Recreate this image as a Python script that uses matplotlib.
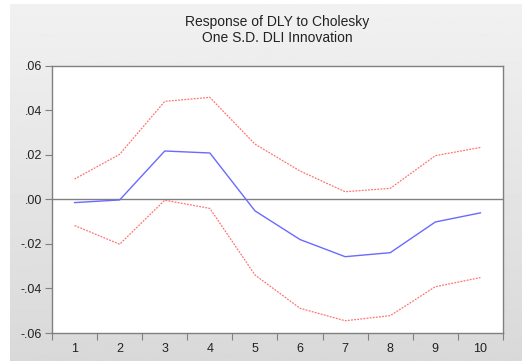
import matplotlib.pyplot as plt
import numpy as np

# Impulse response values
periods = [1, 2, 3, 4, 5, 6, 7, 8, 9, 10]
response = [-0.0014, -0.0002, 0.0218, 0.0209, -0.0051, -0.0180, -0.0257, -0.0239, -0.0101, -0.0060]
upper_band = [0.0092, 0.0203, 0.0441, 0.0459, 0.0249, 0.0128, 0.0035, 0.0050, 0.0197, 0.0234]
lower_band = [-0.0117, -0.0201, -0.0003, -0.0040, -0.0339, -0.0489, -0.0545, -0.0522, -0.0392, -0.0351]
y_ticks = [-0.06, -0.04, -0.02, 0.00, 0.02, 0.04, 0.06]
y_labels = ['-.06', '-.04', '-.02', '.00', '.02', '.04', '.06']

W, H = 522, 361
fig = plt.figure(figsize=(W / 100, H / 100), dpi=100)
fig.patch.set_facecolor('white')
plt.rcParams['font.family'] = ['Liberation Sans', 'DejaVu Sans']

# gray gradient panel behind the plot
bg = fig.add_axes([10 / W, 0, 1 - 10 / W, 1 - 4 / H])
grad = np.linspace(0.945, 0.85, 256).reshape(-1, 1)
bg.imshow(grad, cmap='gray', vmin=0, vmax=1, aspect='auto', extent=[0, 1, 0, 1])
bg.set_axis_off()

left, right, top, bottom = 52, 503, 66, 333
ax = fig.add_axes([left / W, 1 - bottom / H, (right - left) / W, (bottom - top) / H])
ax.set_facecolor('white')

ax.axhline(0, color='#808080', lw=1.0, zorder=1)
ax.plot(periods, upper_band, color='#ff5050', lw=0.9, ls=(0, (1.5, 1.0)), alpha=0.8)
ax.plot(periods, lower_band, color='#ff5050', lw=0.9, ls=(0, (1.5, 1.0)), alpha=0.8)
ax.plot(periods, response, color='#6a6aff', lw=1.0)

ax.set_xlim(0.5, 10.5)
ax.set_ylim(-0.06, 0.06)
ax.set_yticks(y_ticks)
ax.set_yticklabels(y_labels)
ax.set_xticks(np.arange(0.5, 11, 1))
ax.set_xticklabels([])
ax.set_xticks(periods, minor=True)
ax.set_xticklabels([str(p) for p in periods], minor=True)
ax.tick_params(axis='x', which='major', direction='out', length=5, color='#808080')
ax.tick_params(axis='x', which='minor', length=0, pad=7, labelsize=9, labelcolor='#222222')
ax.tick_params(axis='y', direction='out', length=5, color='#808080', labelsize=9, pad=2,
               labelcolor='#222222')
for s in ax.spines.values():
    s.set_color('#808080')
    s.set_linewidth(1.0)

fig.text((left + right) / 2 / W, 1 - 22 / H, 'Response of DLY to Cholesky',
         ha='center', va='center', fontsize=10, color='#222222')
fig.text((left + right) / 2 / W, 1 - 38 / H, 'One S.D. DLI Innovation',
         ha='center', va='center', fontsize=10, color='#222222')

fig.savefig('out.png', dpi=100)
